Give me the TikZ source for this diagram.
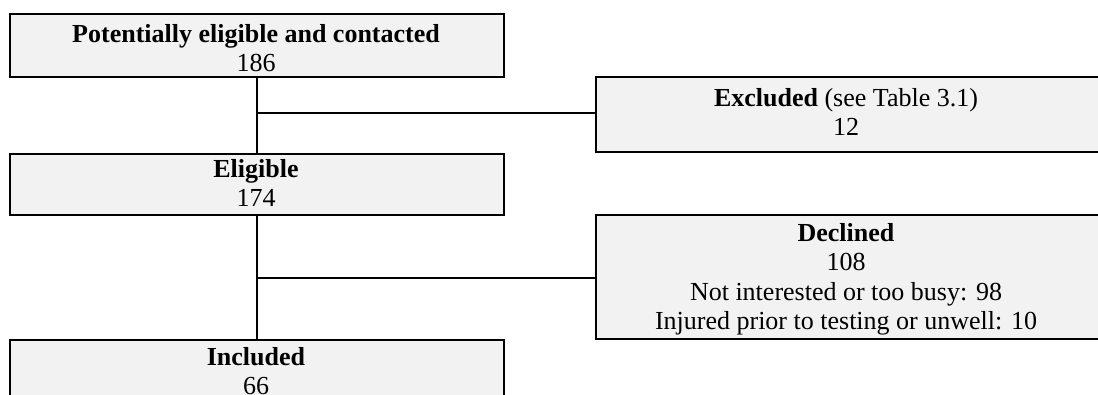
\documentclass[tikz,border=0pt]{standalone}
\usepackage{fontspec}
\setmainfont{Liberation Serif}
\definecolor{boxfill}{HTML}{F2F2F2}
\tikzset{
  box/.style={draw=black, fill=boxfill, line width=1.8pt, rectangle, inner sep=0pt, anchor=north west},
  txt/.style={align=center, inner sep=0pt, anchor=north, font=\fontsize{26}{29.5}\selectfont},
  conn/.style={draw=black, line width=1.8pt}
}
\newcommand{\fl}{\rule{0pt}{20pt}}
\begin{document}
\begin{tikzpicture}[x=1pt, y=-1pt]
\useasboundingbox (0,0) rectangle (1098,394);
\clip (0,0) rectangle (1098,394);
% boxes
\node[box, minimum width=494pt, minimum height=63pt] (b1) at (9,13) {};
\node[box, minimum width=504pt, minimum height=75pt] (exc) at (595,76) {};
\node[box, minimum width=494pt, minimum height=61pt] (elig) at (9,153) {};
\node[box, minimum width=504pt, minimum height=124pt] (dec) at (595,214) {};
\node[box, minimum width=494pt, minimum height=80pt] (inc) at (9,339) {};
% texts
\node[txt] (t1) at (256,22) {\fl\textbf{Potentially eligible and contacted}\\186};
\node[txt] (t2) at (846,86) {\fl\textbf{Excluded} (see Table 3.1)\\12};
\node[txt] (t3) at (256,157) {\fl\textbf{Eligible}\\174};
\node[txt] (t4) at (846,221) {\fl\textbf{Declined}\\108\\Not interested or too busy: 98\\Injured prior to testing or unwell: 10};
\node[txt] (t5) at (256,345) {\fl\textbf{Included}\\66};
% connectors
\coordinate (j1) at (256,113);
\coordinate (j2) at (256,278);
\draw[conn] (b1.south) -- (elig.north);
\draw[conn] (elig.south) -- (inc.north);
\draw[conn] (j1) -- (exc.west |- j1);
\draw[conn] (j2) -- (dec.west |- j2);
\end{tikzpicture}
\end{document}
